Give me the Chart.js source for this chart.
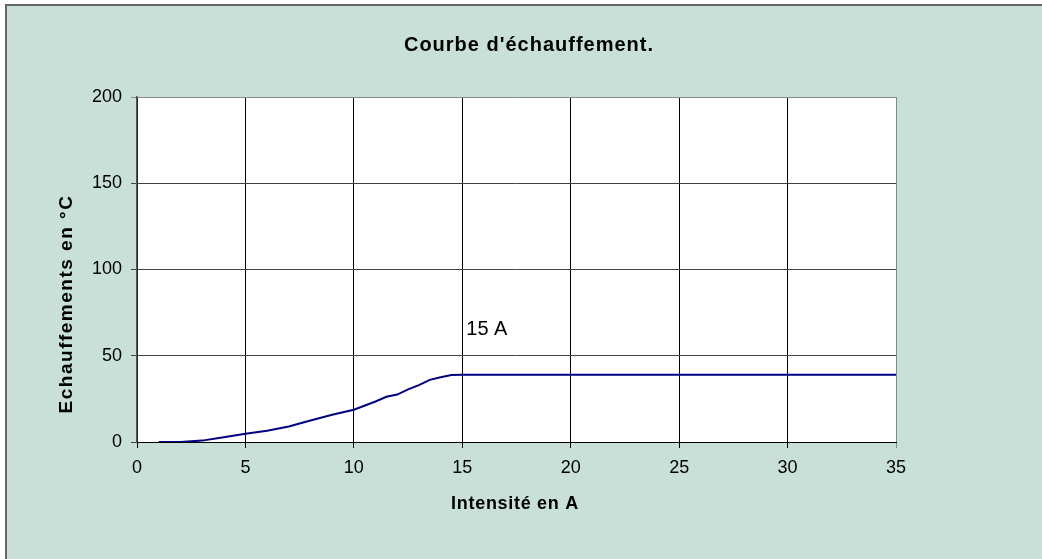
<!DOCTYPE html>
<html lang="fr">
<head>
<meta charset="utf-8">
<title>Courbe d'échauffement</title>
<script src="https://cdn.jsdelivr.net/npm/chart.js@4/dist/chart.umd.min.js"></script>
<style>
  html, body { margin: 0; padding: 0; background: #fff; overflow: hidden; }
  #cadre {
    position: absolute; left: 5px; top: 4px; width: 1100px; height: 600px;
    background: #c9e0d9; border-left: 2px solid #666; border-top: 2px solid #666;
  }
  #chartEchauffement { position: absolute; left: 0; top: 0; }
</style>
</head>
<body>
<div id="cadre"></div>
<canvas id="chartEchauffement" width="1042" height="559"></canvas>
<script>
// valeurs
const intensites = [1, 2, 3, 4, 5, 6, 7, 8, 9, 10, 11, 11.5, 12, 12.5, 13, 13.5, 14, 14.5, 15, 20, 25, 30, 35];
const echauffements = [0, 0, 0.8, 2.7, 4.8, 6.5, 9, 12.5, 15.8, 18.7, 23.5, 26.2, 27.5, 30.5, 33, 36, 37.5, 38.8, 39, 39, 39, 39, 39];
const ticksX = [0, 5, 10, 15, 20, 25, 30, 35];
const ticksY = [0, 50, 100, 150, 200];

const titreGraphe = "Courbe d'échauffement.";
const titreX = 'Intensité en A';
const titreY = 'Echauffements en °C';
const etiquette = { x: 15, y: 66, texte: '15 A' };

const police = "'Liberation Sans', Arial, sans-serif";

/** fond blanc de la zone de tracé */
const fondZone = {
  id: 'fondZone',
  beforeDraw(chart) {
    const { ctx, chartArea: a } = chart;
    ctx.save();
    ctx.fillStyle = '#fff';
    ctx.fillRect(a.left, a.top, a.right - a.left, a.bottom - a.top);
    ctx.restore();
  }
};

/** titres et étiquette "15 A" */
const textes = {
  id: 'textes',
  afterDraw(chart) {
    const { ctx, scales } = chart;
    ctx.save();
    ctx.fillStyle = '#000';
    ctx.textAlign = 'center';
    ctx.textBaseline = 'alphabetic';

    ctx.font = 'bold 20px ' + police;
    ctx.letterSpacing = '1px';
    ctx.fillText(titreGraphe, 529, 51);

    ctx.font = 'bold 18px ' + police;
    ctx.letterSpacing = '0.7px';
    ctx.fillText(titreX, 515, 509);

    ctx.save();
    ctx.translate(72, 304);
    ctx.rotate(-Math.PI / 2);
    ctx.font = 'bold 19px ' + police;
    ctx.letterSpacing = '1.5px';
    ctx.fillText(titreY, 0, 0);
    ctx.restore();

    ctx.letterSpacing = '0px';
    ctx.font = '20px ' + police;
    ctx.textAlign = 'left';
    ctx.fillText(etiquette.texte, scales.x.getPixelForValue(etiquette.x) + 4, scales.y.getPixelForValue(etiquette.y) + 7);
    ctx.restore();
  }
};

const _chartEchauffement = document.getElementById('chartEchauffement');

new Chart(_chartEchauffement, {
  type: 'line',
  data: {
    datasets: [{
      label: 'Echauffement',
      data: intensites.map((x, i) => ({ x: x, y: echauffements[i] })),
      borderColor: '#000080',
      borderWidth: 2,
      pointRadius: 0,
      fill: false,
      tension: 0
    }]
  },
  options: {
    responsive: false,
    animation: false,
    devicePixelRatio: 1,
    layout: { padding: { top: 97, right: 146, bottom: 0, left: 0 } },
    plugins: {
      legend: { display: false },
      tooltip: { enabled: false }
    },
    scales: {
      x: {
        type: 'linear',
        min: 0,
        max: 35,
        afterBuildTicks: s => { s.ticks = ticksX.map(v => ({ value: v })); },
        afterFit: s => { s.height = 117; },
        ticks: { color: '#000', font: { family: police, size: 18 }, padding: 9 },
        grid: {
          color: c => (c.tick && c.tick.value === 35 ? '#888' : '#000'),
          lineWidth: 1,
          tickLength: 6
        },
        border: { color: '#000', width: 1 }
      },
      y: {
        min: 0,
        max: 200,
        afterBuildTicks: s => { s.ticks = ticksY.map(v => ({ value: v })); },
        afterFit: s => { s.width = 137; },
        ticks: { color: '#000', font: { family: police, size: 18 }, padding: 9 },
        grid: {
          color: c => (c.tick && c.tick.value === 200 ? '#888' : '#444'),
          lineWidth: 1,
          tickLength: 6
        },
        border: { color: '#555', width: 1.5 }
      }
    }
  },
  plugins: [fondZone, textes]
});
</script>
</body>
</html>
